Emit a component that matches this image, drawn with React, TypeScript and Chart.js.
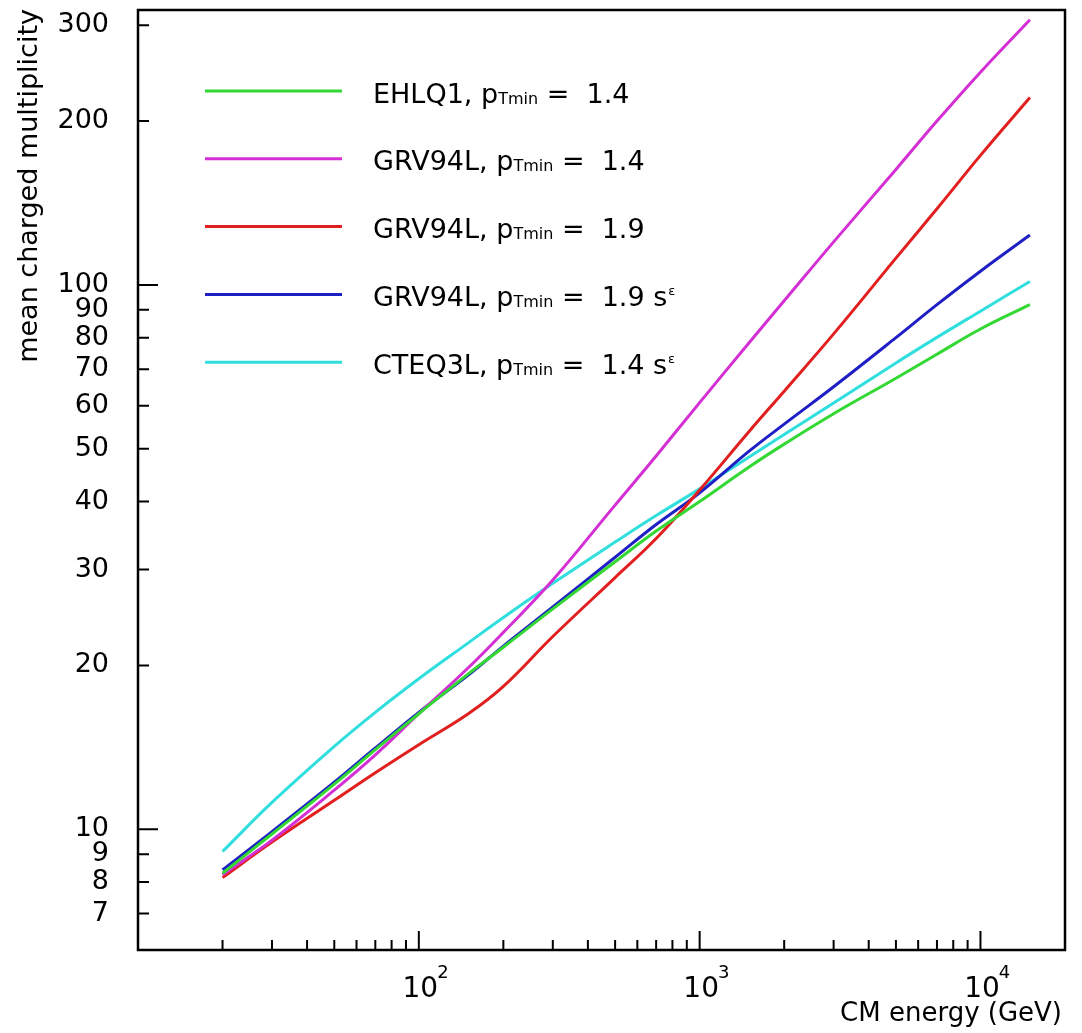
import React, { useEffect, useRef } from 'react';
import { Chart, registerables } from 'chart.js';

Chart.register(...registerables);

// CM energy (GeV)
const ENERGY = [20, 30, 50, 70, 100, 150, 200, 300, 500, 700, 1000, 1500, 2000, 3000, 5000, 7000, 10000, 15000];

// mean charged multiplicity per model
const EHLQ1_PT14 = [8.3, 9.8, 12.1, 14.0, 16.3, 19.3, 21.6, 25.4, 31.0, 35.3, 40.0, 46.3, 51.0, 58.0, 67.4, 74.6, 83.0, 92.0];
const GRV94L_PT14 = [8.25, 9.55, 11.8, 13.7, 16.3, 19.8, 23.0, 28.7, 39.4, 48.5, 60.8, 78.3, 93.5, 120, 163, 200, 246, 307];
const GRV94L_PT19 = [8.15, 9.47, 11.3, 12.7, 14.3, 16.3, 18.3, 22.6, 29.0, 34.2, 42.0, 53.8, 63.8, 81.3, 112, 138, 173, 221];
const GRV94L_PT19_SE = [8.42, 9.9, 12.2, 14.1, 16.4, 19.2, 21.7, 25.6, 31.6, 36.3, 41.5, 49.5, 55.5, 65.0, 80.0, 92.0, 106, 123.5];
const CTEQ3L_PT14_SE = [9.1, 11.2, 14.2, 16.4, 18.9, 22.0, 24.5, 28.3, 33.7, 37.7, 42.2, 48.3, 53.1, 60.7, 71.9, 80.1, 89.5, 101.5];

const SERIES = [EHLQ1_PT14, GRV94L_PT14, GRV94L_PT19, GRV94L_PT19_SE, CTEQ3L_PT14_SE];
const SERIES_PDF = ['EHLQ1,', 'GRV94L,', 'GRV94L,', 'GRV94L,', 'CTEQ3L,'];
const SERIES_PTMIN = ['1.4', '1.4', '1.9', '1.9', '1.4'];
const SERIES_SEPS = [false, false, false, true, true];
const SERIES_COLORS = ['#33d833', '#d42fd4', '#e21f1f', '#1f1fc6', '#30dede'];

// axis ticks
const Y_TICKS = [7, 8, 9, 10, 20, 30, 40, 50, 60, 70, 80, 90, 100, 200, 300];
const Y_MAJOR = [10, 100];
const X_TICKS = [20, 30, 40, 50, 60, 70, 80, 90, 100, 200, 300, 400, 500, 600, 700, 800, 900, 1000,
  2000, 3000, 4000, 5000, 6000, 7000, 8000, 9000, 10000];
const X_MAJOR = [100, 1000, 10000];
const X_MAJOR_EXP = ['2', '3', '4'];

const FONT = '"DejaVu Sans", "Liberation Sans", sans-serif';

const decorPlugin = {
  id: 'decor',
  afterDraw(chart: any) {
    const { ctx, chartArea: a, scales } = chart;
    const xs = scales.x;
    const ys = scales.y;
    ctx.save();
    // frame
    ctx.strokeStyle = '#000';
    ctx.lineWidth = 2.5;
    ctx.strokeRect(a.left, a.top, a.right - a.left, a.bottom - a.top);
    // inward ticks
    ctx.lineWidth = 2;
    ctx.beginPath();
    Y_TICKS.forEach((v) => {
      const y = ys.getPixelForValue(v);
      const len = Y_MAJOR.includes(v) ? 20 : 11;
      ctx.moveTo(a.left, y);
      ctx.lineTo(a.left + len, y);
    });
    X_TICKS.forEach((v) => {
      const x = xs.getPixelForValue(v);
      const len = X_MAJOR.includes(v) ? 19 : 10;
      ctx.moveTo(x, a.bottom);
      ctx.lineTo(x, a.bottom - len);
    });
    ctx.stroke();

    ctx.fillStyle = '#000';
    // x tick labels 10^n
    X_MAJOR.forEach((v, i) => {
      const x = xs.getPixelForValue(v) + 1.5;
      ctx.font = `28px ${FONT}`;
      ctx.textAlign = 'center';
      ctx.textBaseline = 'alphabetic';
      ctx.fillText('10', x, a.bottom + 47);
      const w = ctx.measureText('10').width;
      ctx.font = `18px ${FONT}`;
      ctx.textAlign = 'left';
      ctx.fillText(X_MAJOR_EXP[i], x + w / 2 - 1, a.bottom + 28);
    });

    // x title
    ctx.font = `26px ${FONT}`;
    ctx.textAlign = 'right';
    ctx.textBaseline = 'alphabetic';
    ctx.fillText('CM energy (GeV)', a.right - 3, a.bottom + 71);

    // y title
    ctx.save();
    ctx.translate(a.left - 101, a.top - 1);
    ctx.rotate(-Math.PI / 2);
    ctx.font = `27px ${FONT}`;
    ctx.textAlign = 'right';
    ctx.textBaseline = 'alphabetic';
    ctx.fillText('mean charged multiplicity', 0, 0);
    ctx.restore();

    // legend
    const rowTop = a.top + 81;
    const rowStep = 67.8;
    const lineX0 = a.left + 67;
    const lineX1 = a.left + 204;
    const textX = a.left + 235;
    SERIES.forEach((_, i) => {
      const y = rowTop + i * rowStep;
      ctx.strokeStyle = SERIES_COLORS[i];
      ctx.lineWidth = 3;
      ctx.beginPath();
      ctx.moveTo(lineX0, y);
      ctx.lineTo(lineX1, y);
      ctx.stroke();

      const base = y + 11.5;
      let x = textX;
      ctx.fillStyle = '#000';
      ctx.textAlign = 'left';
      ctx.textBaseline = 'alphabetic';
      ctx.font = `27px ${FONT}`;
      const t1 = `${SERIES_PDF[i]} p`;
      ctx.fillText(t1, x, base);
      x += ctx.measureText(t1).width;
      ctx.font = `16px ${FONT}`;
      ctx.fillText('Tmin', x, base + 1);
      x += ctx.measureText('Tmin').width;
      ctx.font = `27px ${FONT}`;
      const t2 = ` =  ${SERIES_PTMIN[i]}`;
      ctx.fillText(t2, x, base);
      x += ctx.measureText(t2).width;
      if (SERIES_SEPS[i]) {
        const t3 = ' s';
        ctx.fillText(t3, x, base);
        x += ctx.measureText(t3).width;
        ctx.font = `13px ${FONT}`;
        ctx.fillText('ε', x + 1, base - 11);
      }
    });
    ctx.restore();
  },
};

export default function App() {
  const canvasRef = useRef<HTMLCanvasElement | null>(null);

  useEffect(() => {
    const canvas = canvasRef.current;
    if (!canvas) return;
    const chart = new Chart(canvas, {
      type: 'line',
      data: {
        datasets: SERIES.map((vals, i) => ({
          label: `${SERIES_PDF[i]} pTmin = ${SERIES_PTMIN[i]}${SERIES_SEPS[i] ? ' sε' : ''}`,
          data: ENERGY.map((e, k) => ({ x: e, y: vals[k] })),
          borderColor: SERIES_COLORS[i],
          backgroundColor: SERIES_COLORS[i],
          borderWidth: 3,
          pointRadius: 0,
          tension: 0.4,
          fill: false,
        })),
      },
      options: {
        responsive: false,
        animation: false,
        events: [],
        layout: { padding: { top: 10, right: 17, left: 0, bottom: 0 } },
        plugins: {
          legend: { display: false },
          tooltip: { enabled: false },
          title: { display: false },
        },
        scales: {
          x: {
            type: 'logarithmic',
            min: 10,
            max: 20000,
            grid: { display: false, drawTicks: false },
            border: { display: false },
            ticks: { display: false },
            afterFit: (scale: any) => {
              scale.height = 83;
              scale.paddingLeft = 0;
              scale.paddingRight = 0;
            },
          },
          y: {
            type: 'logarithmic',
            min: 6,
            max: 320,
            grid: { display: false, drawTicks: false },
            border: { display: false },
            afterBuildTicks: (scale: any) => {
              scale.ticks = Y_TICKS.map((v) => ({ value: v }));
            },
            ticks: {
              autoSkip: false,
              padding: 29,
              color: '#000',
              font: { family: FONT, size: 27 },
              callback: (v: any) => String(v),
            },
            afterFit: (scale: any) => {
              scale.width = 138;
              scale.paddingTop = 0;
              scale.paddingBottom = 0;
            },
          },
        },
      },
      plugins: [decorPlugin],
    });
    return () => chart.destroy();
  }, []);

  return (
    <div style={{ position: 'absolute', left: 0, top: 0, width: 1082, height: 1033, background: '#fff' }}>
      <canvas ref={canvasRef} width={1082} height={1033} style={{ display: 'block' }} />
    </div>
  );
}
